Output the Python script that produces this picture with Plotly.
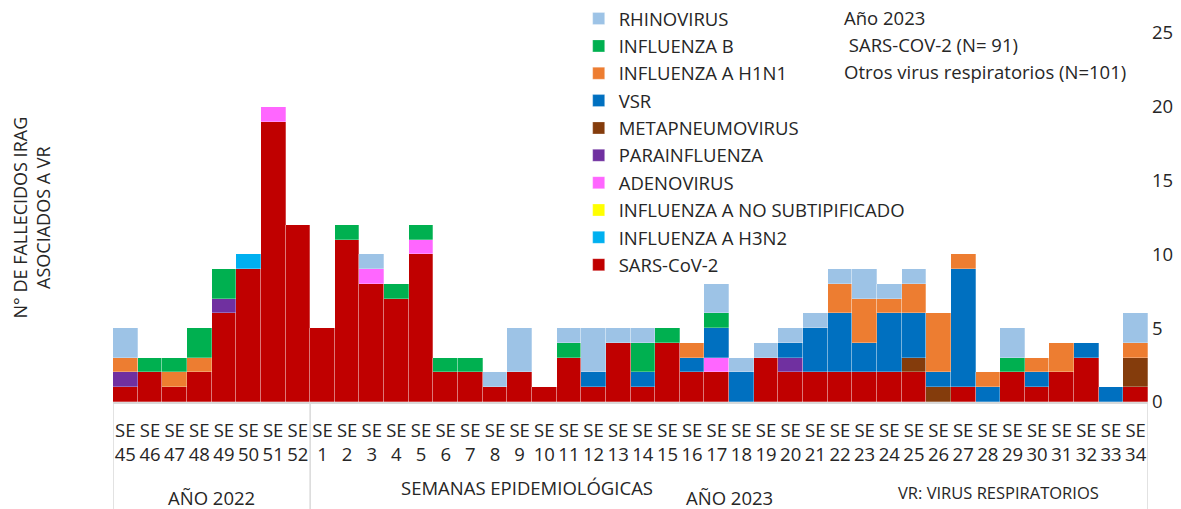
import plotly.graph_objects as go

# ---------------- data ----------------
weeks_2022 = [45, 46, 47, 48, 49, 50, 51, 52]
weeks_2023 = [1, 2, 3, 4, 5, 6, 7, 8, 9, 10, 11, 12, 13, 14, 15, 16, 17,
              18, 19, 20, 21, 22, 23, 24, 25, 26, 27, 28, 29, 30, 31, 32, 33, 34]
year_labels = ["AÑO 2022", "AÑO 2023"]

#                   2022 SE45..52          | 2023 SE1..34
sars_cov_2   = [1, 2, 1, 2, 6, 9, 19, 12,  5, 11, 8, 7, 10, 2, 2, 1, 2, 1, 3, 1, 4, 1, 4, 2, 2, 0, 3, 2, 2, 2, 2, 2, 2, 0, 1, 0, 2, 1, 2, 3, 0, 1]
flu_a_h3n2   = [0, 0, 0, 0, 0, 1, 0, 0,   0, 0, 0, 0, 0, 0, 0, 0, 0, 0, 0, 0, 0, 0, 0, 0, 0, 0, 0, 0, 0, 0, 0, 0, 0, 0, 0, 0, 0, 0, 0, 0, 0, 0]
flu_a_ns     = [0, 0, 0, 0, 0, 0, 0, 0,   0, 0, 0, 0, 0, 0, 0, 0, 0, 0, 0, 0, 0, 0, 0, 0, 0, 0, 0, 0, 0, 0, 0, 0, 0, 0, 0, 0, 0, 0, 0, 0, 0, 0]
adenovirus   = [0, 0, 0, 0, 0, 0, 1, 0,   0, 0, 1, 0, 1, 0, 0, 0, 0, 0, 0, 0, 0, 0, 0, 0, 1, 0, 0, 0, 0, 0, 0, 0, 0, 0, 0, 0, 0, 0, 0, 0, 0, 0]
parainflu    = [1, 0, 0, 0, 1, 0, 0, 0,   0, 0, 0, 0, 0, 0, 0, 0, 0, 0, 0, 0, 0, 0, 0, 0, 0, 0, 0, 1, 0, 0, 0, 0, 0, 0, 0, 0, 0, 0, 0, 0, 0, 0]
metapneumo   = [0, 0, 0, 0, 0, 0, 0, 0,   0, 0, 0, 0, 0, 0, 0, 0, 0, 0, 0, 0, 0, 0, 0, 0, 0, 0, 0, 0, 0, 0, 0, 0, 1, 1, 0, 0, 0, 0, 0, 0, 0, 2]
vsr          = [0, 0, 0, 0, 0, 0, 0, 0,   0, 0, 0, 0, 0, 0, 0, 0, 0, 0, 0, 1, 0, 1, 0, 1, 2, 2, 0, 1, 3, 4, 2, 4, 3, 1, 8, 1, 0, 1, 0, 1, 1, 0]
flu_a_h1n1   = [1, 0, 1, 1, 0, 0, 0, 0,   0, 0, 0, 0, 0, 0, 0, 0, 0, 0, 0, 0, 0, 0, 0, 1, 0, 0, 0, 0, 0, 2, 3, 1, 2, 4, 1, 1, 0, 1, 2, 0, 0, 1]
flu_b        = [0, 1, 1, 2, 2, 0, 0, 0,   0, 1, 0, 1, 1, 1, 1, 0, 0, 0, 1, 0, 0, 2, 1, 0, 1, 0, 0, 0, 0, 0, 0, 0, 0, 0, 0, 0, 1, 0, 0, 0, 0, 0]
rhinovirus   = [2, 0, 0, 0, 0, 0, 0, 0,   0, 0, 1, 0, 0, 0, 0, 1, 3, 0, 1, 3, 1, 1, 0, 0, 2, 1, 1, 1, 1, 1, 2, 1, 1, 0, 0, 0, 2, 0, 0, 0, 0, 2]

# series from bottom of stack to top
series_names = ["SARS-CoV-2", "INFLUENZA A H3N2", "INFLUENZA A NO SUBTIPIFICADO",
                "ADENOVIRUS", "PARAINFLUENZA", "METAPNEUMOVIRUS", "VSR",
                "INFLUENZA A H1N1", "INFLUENZA B", "RHINOVIRUS"]
series_values = [sars_cov_2, flu_a_h3n2, flu_a_ns, adenovirus, parainflu,
                 metapneumo, vsr, flu_a_h1n1, flu_b, rhinovirus]
series_colors = ["#C00000", "#00B0F0", "#FFFF00", "#FF66FF", "#7030A0",
                 "#843C0C", "#0070C0", "#ED7D31", "#00B050", "#9DC3E6"]

# ---------------- figure ----------------
FONT = "Open Sans"
TXT = "#262626"

cats = ["SE<br>%d" % w for w in weeks_2022] + ["SE<br>%d" % w for w in weeks_2023]

fig = go.Figure()
n_series = len(series_names)
for i, (name, vals, col) in enumerate(zip(series_names, series_values, series_colors)):
    fig.add_trace(go.Bar(
        x=cats,
        y=[v if v else None for v in vals],
        name=name,
        legendgroup=name,
        legendrank=n_series - i,
        marker=dict(color=col, line=dict(color="rgba(255,255,255,0.45)", width=0.6)),
    ))

n22 = len(weeks_2022)
n_all = len(cats)

# category "table" lines below axis
line_col = "#d9d9d9"
for xpos in [-0.5, n22 - 0.5, n_all - 0.5]:
    fig.add_shape(type="line", xref="x", yref="paper", x0=xpos, x1=xpos,
                  y0=0, y1=-0.30, line=dict(color=line_col, width=1.5))

annotations = [
    dict(x=(n22 - 1) / 2, y=-0.260, xref="x", yref="paper", text=year_labels[0],
         showarrow=False, font=dict(family=FONT, size=18.5, color=TXT), yanchor="middle"),
    dict(x=(n22 + n_all - 1) / 2, y=-0.260, xref="x", yref="paper", text=year_labels[1],
         showarrow=False, font=dict(family=FONT, size=18.5, color=TXT), yanchor="middle"),
    dict(x=(527 - 113) / 1035, y=-0.232, xref="paper", yref="paper", text="SEMANAS EPIDEMIOLÓGICAS",
         showarrow=False, font=dict(family=FONT, size=18.5, color=TXT), yanchor="middle", xanchor="center"),
    dict(x=(998 - 113) / 1035, y=-0.246, xref="paper", yref="paper", text="VR: VIRUS RESPIRATORIOS",
         showarrow=False, font=dict(family=FONT, size=16.5, color=TXT), yanchor="middle", xanchor="center"),
    dict(x=0.704, y=1.0407, xref="paper", yref="paper", text="Año 2023", xanchor="left",
         showarrow=False, font=dict(family=FONT, size=18.5, color=TXT), yanchor="middle"),
    dict(x=0.704, y=0.9675, xref="paper", yref="paper", text=" SARS-COV-2 (N= 91)", xanchor="left",
         showarrow=False, font=dict(family=FONT, size=18.5, color=TXT), yanchor="middle"),
    dict(x=0.704, y=0.897, xref="paper", yref="paper", text="Otros virus respiratorios (N=101)", xanchor="left",
         showarrow=False, font=dict(family=FONT, size=18.5, color=TXT), yanchor="middle"),
    dict(x=(31 - 113) / 1035, y=0.5, xref="paper", yref="paper",
         text="N° DE FALLECIDOS IRAG<br>ASOCIADOS A VR", textangle=-90,
         xanchor="center", yanchor="middle",
         showarrow=False, font=dict(family=FONT, size=18, color=TXT)),
]

fig.update_layout(
    width=1181, height=509,
    margin=dict(l=113, r=33, t=33, b=107, autoexpand=False),
    paper_bgcolor="white", plot_bgcolor="white",
    barmode="stack", bargap=0,
    font=dict(family=FONT, size=18, color=TXT),
    showlegend=True,
    legend=dict(
        xref="container", yref="container",
        x=0.490, y=1.0, xanchor="left", yanchor="top",
        tracegroupgap=0.3, maxheight=480,
        font=dict(family=FONT, size=18.5, color=TXT),
        bgcolor="rgba(0,0,0,0)", itemwidth=30,
    ),
    xaxis=dict(type="category", showgrid=False, showline=True, linecolor=line_col,
               linewidth=1.5, ticks="", tickangle=0, zeroline=False, automargin=False,
               ticklabelstandoff=11,
               tickfont=dict(family=FONT, size=18.5, color=TXT),
               range=[-0.5, n_all - 0.5], fixedrange=True),
    yaxis=dict(side="right", range=[0, 25], dtick=5, showgrid=False, showline=False,
               zeroline=False, ticks="", automargin=False, ticklabelstandoff=3,
               tickfont=dict(family=FONT, size=18.5, color=TXT)),
    annotations=annotations,
)

fig.write_html("out.html",
               config={"displayModeBar": False},
               post_script="document.body.style.margin='0';document.body.style.padding='0';")
